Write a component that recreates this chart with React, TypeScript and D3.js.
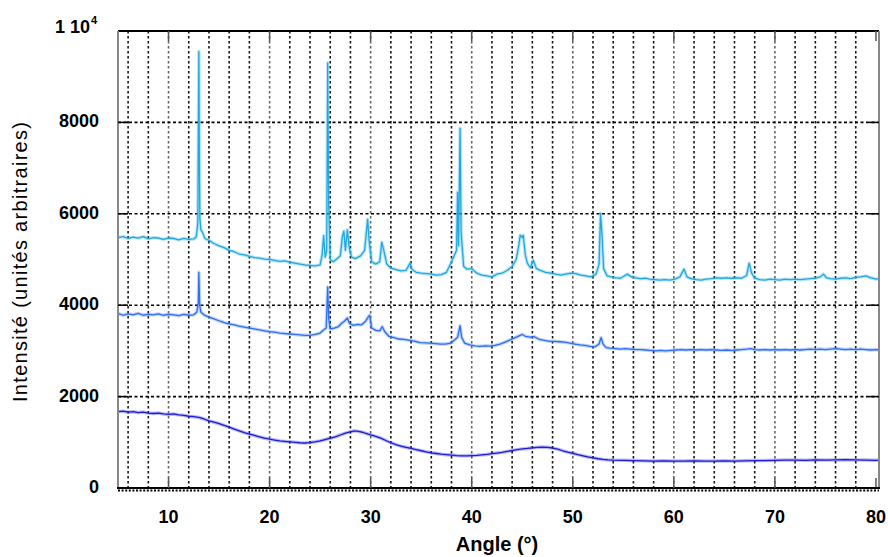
import React from "react";
import * as d3 from "d3";

const xTicks = [10, 20, 30, 40, 50, 60, 70, 80];
const yTicks = [0, 2000, 4000, 6000, 8000];
const xGrid = [6, 8, 10, 12, 14, 16, 18, 20, 22, 24, 26, 28, 30, 32, 34, 36, 38, 40, 42, 44, 46, 48, 50, 52, 54, 56, 58, 60, 62, 64, 66, 68, 70, 72, 74, 76, 78];
const yGrid = [2000, 4000, 6000, 8000];

const seriesTop: [number, number][] = [[5.0,5480],[5.5,5500],[6.0,5460],[6.5,5490],[7.0,5470],[7.5,5500],[8.0,5450],[8.5,5480],[9.0,5470],[9.5,5440],[10.0,5470],[10.5,5460],[11.0,5430],[11.5,5460],[12.0,5440],[12.5,5450],[12.75,5500],[12.9,5800],[13.0,9550],[13.05,7200],[13.1,5900],[13.2,5650],[13.35,5600],[13.6,5460],[14.0,5420],[14.5,5350],[15.0,5300],[15.5,5260],[16.0,5200],[16.5,5170],[17.0,5120],[17.5,5100],[18.0,5070],[18.5,5040],[19.0,5030],[19.5,5010],[20.0,5000],[20.5,4980],[21.0,4960],[21.5,4970],[22.0,4940],[22.5,4920],[23.0,4900],[23.5,4880],[24.0,4870],[24.5,4860],[25.0,4880],[25.2,5100],[25.35,5520],[25.5,5050],[25.65,5200],[25.75,9300],[25.85,6200],[26.0,5000],[26.3,4950],[26.7,5020],[27.0,5080],[27.2,5500],[27.35,5620],[27.5,5200],[27.7,5650],[27.85,5300],[28.1,5050],[28.5,5020],[29.0,5080],[29.4,5200],[29.7,5880],[29.85,5400],[30.1,4950],[30.5,4900],[30.9,4950],[31.1,5380],[31.3,5200],[31.6,4900],[32.0,4810],[32.5,4780],[33.0,4750],[33.5,4760],[33.9,4920],[34.1,4780],[34.5,4720],[35.0,4700],[35.5,4690],[36.0,4680],[36.5,4660],[37.0,4670],[37.5,4720],[37.9,4900],[38.2,5050],[38.5,5200],[38.6,6470],[38.7,5300],[38.85,7870],[38.95,5600],[39.2,4850],[39.5,4790],[40.0,4800],[40.5,4700],[41.0,4660],[41.5,4640],[42.0,4620],[42.5,4680],[43.0,4700],[43.5,4760],[44.0,4850],[44.4,5000],[44.65,5300],[44.8,5530],[45.0,5480],[45.1,5530],[45.3,5100],[45.5,4920],[45.8,4820],[46.1,4980],[46.4,4800],[46.8,4760],[47.3,4720],[47.8,4700],[48.3,4680],[48.8,4660],[49.3,4680],[49.8,4700],[50.3,4690],[50.8,4660],[51.3,4640],[51.8,4620],[52.3,4680],[52.6,4900],[52.75,6010],[52.9,5500],[53.05,4800],[53.4,4640],[53.8,4620],[54.3,4600],[54.7,4590],[55.1,4640],[55.4,4680],[55.8,4620],[56.2,4600],[56.7,4580],[57.2,4590],[57.6,4570],[58.1,4560],[58.6,4550],[59.1,4560],[59.6,4550],[60.1,4570],[60.6,4620],[61.0,4790],[61.3,4620],[61.7,4580],[62.2,4560],[62.7,4550],[63.2,4570],[63.7,4580],[64.2,4600],[64.7,4590],[65.2,4600],[65.7,4590],[66.2,4600],[66.7,4590],[67.2,4650],[67.45,4920],[67.7,4700],[68.0,4590],[68.5,4560],[69.0,4550],[69.5,4570],[70.0,4560],[70.5,4550],[71.0,4570],[71.5,4560],[72.0,4570],[72.5,4560],[73.0,4570],[73.5,4580],[74.0,4590],[74.5,4620],[74.8,4680],[75.1,4600],[75.5,4580],[76.0,4570],[76.5,4590],[77.0,4600],[77.5,4580],[78.0,4610],[78.5,4620],[79.0,4640],[79.5,4600],[80.0,4570],[80.3,4580]];

const seriesMid: [number, number][] = [[5.0,3820],[5.5,3780],[6.0,3810],[6.5,3790],[7.0,3820],[7.5,3780],[8.0,3800],[8.5,3790],[9.0,3810],[9.5,3780],[10.0,3800],[10.5,3790],[11.0,3770],[11.5,3800],[12.0,3780],[12.5,3790],[12.8,3850],[12.95,4050],[13.0,4720],[13.08,4000],[13.2,3850],[13.5,3790],[14.0,3740],[14.5,3700],[15.0,3660],[15.5,3620],[16.0,3590],[16.5,3570],[17.0,3540],[17.5,3520],[18.0,3500],[18.5,3480],[19.0,3460],[19.5,3440],[20.0,3420],[20.5,3410],[21.0,3390],[21.5,3380],[22.0,3370],[22.5,3360],[23.0,3350],[23.5,3340],[24.0,3340],[24.5,3360],[25.0,3390],[25.3,3450],[25.6,3500],[25.75,4400],[25.85,3700],[26.0,3480],[26.4,3500],[26.8,3530],[27.1,3600],[27.4,3650],[27.7,3720],[27.9,3600],[28.3,3560],[28.7,3580],[29.1,3570],[29.5,3650],[29.75,3740],[29.9,3780],[30.1,3500],[30.5,3450],[30.9,3440],[31.15,3530],[31.4,3420],[31.8,3320],[32.3,3290],[32.8,3260],[33.3,3250],[33.9,3230],[34.4,3210],[34.9,3180],[35.4,3175],[35.9,3170],[36.4,3160],[36.9,3150],[37.4,3150],[37.9,3170],[38.3,3240],[38.6,3300],[38.85,3550],[39.0,3300],[39.3,3170],[39.8,3130],[40.3,3110],[40.8,3100],[41.3,3110],[41.8,3105],[42.3,3120],[42.8,3150],[43.3,3190],[43.8,3240],[44.3,3290],[44.8,3340],[45.0,3360],[45.3,3320],[45.8,3300],[46.2,3310],[46.7,3250],[47.2,3230],[47.7,3210],[48.2,3210],[48.7,3200],[49.2,3190],[49.7,3170],[50.2,3150],[50.7,3130],[51.2,3120],[51.7,3100],[52.2,3090],[52.6,3150],[52.8,3290],[53.0,3150],[53.3,3070],[53.7,3060],[54.2,3050],[54.7,3040],[55.2,3050],[55.7,3040],[56.2,3030],[56.7,3030],[57.2,3020],[57.7,3010],[58.2,3000],[58.7,3010],[59.2,3000],[59.7,3010],[60.2,3020],[60.7,3030],[61.2,3020],[61.7,3030],[62.2,3020],[62.7,3030],[63.2,3020],[63.7,3030],[64.2,3020],[64.7,3010],[65.2,3020],[65.7,3010],[66.2,3020],[66.7,3030],[67.2,3040],[67.6,3050],[68.0,3030],[68.5,3020],[69.0,3030],[69.5,3020],[70.0,3030],[70.5,3020],[71.0,3030],[71.5,3020],[72.0,3030],[72.5,3020],[73.0,3030],[73.5,3040],[74.0,3030],[74.5,3040],[75.0,3030],[75.5,3040],[76.0,3050],[76.5,3040],[77.0,3030],[77.5,3040],[78.0,3030],[78.5,3040],[79.0,3030],[79.5,3020],[80.0,3030],[80.3,3020]];

const seriesLow: [number, number][] = [[5.0,1670],[5.5,1680],[6.0,1660],[6.5,1670],[7.0,1650],[7.5,1660],[8.0,1640],[8.5,1630],[9.0,1640],[9.5,1620],[10.0,1610],[10.5,1620],[11.0,1600],[11.5,1590],[12.0,1570],[12.5,1560],[13.0,1545],[13.5,1510],[14.0,1470],[14.5,1440],[15.0,1410],[15.5,1370],[16.0,1330],[16.5,1290],[17.0,1250],[17.5,1210],[18.0,1180],[18.5,1150],[19.0,1120],[19.5,1090],[20.0,1070],[20.5,1050],[21.0,1030],[21.5,1020],[22.0,1010],[22.5,1000],[23.0,990],[23.5,985],[24.0,995],[24.5,1010],[25.0,1030],[25.5,1060],[26.0,1090],[26.5,1120],[27.0,1160],[27.5,1200],[28.0,1230],[28.4,1250],[28.8,1240],[29.2,1220],[29.6,1190],[30.0,1160],[30.5,1130],[31.0,1090],[31.5,1040],[32.0,990],[32.5,950],[33.0,915],[33.5,890],[34.0,865],[34.5,840],[35.0,815],[35.5,790],[36.0,770],[36.5,755],[37.0,740],[37.5,730],[38.0,720],[38.5,710],[39.0,705],[39.5,705],[40.0,710],[40.5,715],[41.0,725],[41.5,735],[42.0,750],[42.5,765],[43.0,780],[43.5,800],[44.0,820],[44.5,840],[45.0,855],[45.5,865],[46.0,880],[46.5,890],[47.0,895],[47.5,890],[48.0,875],[48.5,850],[49.0,815],[49.5,785],[50.0,760],[50.5,730],[51.0,705],[51.5,680],[52.0,660],[52.5,640],[53.0,625],[53.5,615],[54.0,610],[55.0,605],[56.0,600],[57.0,595],[58.0,590],[59.0,595],[60.0,590],[61.0,590],[62.0,595],[63.0,590],[64.0,590],[65.0,595],[66.0,590],[67.0,595],[68.0,600],[69.0,600],[70.0,605],[71.0,610],[72.0,610],[73.0,605],[74.0,615],[75.0,610],[76.0,615],[77.0,620],[78.0,615],[79.0,610],[80.0,605],[80.3,610]];

const seriesList = [
  { data: seriesLow, color: "#1c1cd6" },
  { data: seriesMid, color: "#2f6ff2" },
  { data: seriesTop, color: "#1fa9e0" },
];

const W = 888, H = 557;
const L = 118, R = 879, T = 31, B = 488;

export default function App() {
  const x = d3.scaleLinear().domain([5, 80.3]).range([L, R]);
  const y = d3.scaleLinear().domain([0, 10000]).range([B, T]);
  const line = d3.line<[number, number]>().x(d => x(d[0])).y(d => y(d[1]));
  const font = "'Liberation Sans', Arial, Helvetica, sans-serif";
  return (
    <svg width={W} height={H} style={{ position: "absolute", left: 0, top: 0, background: "#fff" }}>
      <rect x={0} y={0} width={W} height={H} fill="#fff" />
      {xGrid.map(g => (
        <line key={"xg" + g} x1={x(g)} x2={x(g)} y1={T} y2={B} stroke="#000" strokeWidth={1.6} strokeDasharray="2.5,2.5" opacity={g % 10 === 0 ? 0.6 : 0.9} />
      ))}
      {yGrid.map(g => (
        <line key={"yg" + g} x1={L} x2={R} y1={y(g)} y2={y(g)} stroke="#000" strokeWidth={1.6} strokeDasharray="3,2.5" />
      ))}
      {seriesList.map((s, i) => (
        <g key={i}>
          <path d={line(s.data) || ""} fill="none" stroke={s.color} strokeWidth={3.5} opacity={0.3} strokeLinejoin="round" />
          <path d={line(s.data) || ""} fill="none" stroke={s.color} strokeWidth={1.3} strokeLinejoin="round" />
        </g>
      ))}
      {/* frame */}
      <line x1={L} x2={R} y1={T} y2={T} stroke="#000" strokeWidth={2} />
      <line x1={L} x2={L} y1={T} y2={B} stroke="#888" strokeWidth={2} />
      <line x1={R} x2={R} y1={T} y2={B} stroke="#888" strokeWidth={2} />
      <line x1={L - 1} x2={R + 1} y1={B} y2={B} stroke="#000" strokeWidth={2} />
      <line x1={L} x2={R} y1={B + 2.5} y2={B + 2.5} stroke="#000" strokeWidth={2} strokeDasharray="2,1.6" />
      {xTicks.map(t => (
        <g key={"xt" + t}>
          <line x1={x(t)} x2={x(t)} y1={B} y2={B - 10} stroke="#555" strokeWidth={1.5} />
          <line x1={x(t)} x2={x(t)} y1={T} y2={T + 10} stroke="#555" strokeWidth={1.5} />
          <text x={x(t)} y={523} textAnchor="middle" fontFamily={font} fontWeight="bold" fontSize={18}>{t}</text>
        </g>
      ))}
      {yTicks.map(t => (
        <g key={"yt" + t}>
          <line x1={L} x2={L + 10} y1={y(t)} y2={y(t)} stroke="#000" strokeWidth={1.5} />
          <line x1={R - 10} x2={R} y1={y(t)} y2={y(t)} stroke="#000" strokeWidth={1.5} />
          <text x={99} y={y(t) + 5} textAnchor="end" fontFamily={font} fontWeight="bold" fontSize={18}>{t}</text>
        </g>
      ))}
      <text x={90} y={33} textAnchor="end" fontFamily={font} fontWeight="bold" fontSize={18}>1 10</text>
      <text x={91} y={24} textAnchor="start" fontFamily={font} fontWeight="bold" fontSize={11}>4</text>
      <text x={497} y={551} textAnchor="middle" fontFamily={font} fontWeight="bold" fontSize={20}>Angle (°)</text>
      <text transform="translate(27,262) rotate(-90)" textAnchor="middle" fontFamily={font} fontSize={20} textLength={280} lengthAdjust="spacing">Intensité (unités arbitraires)</text>
    </svg>
  );
}
